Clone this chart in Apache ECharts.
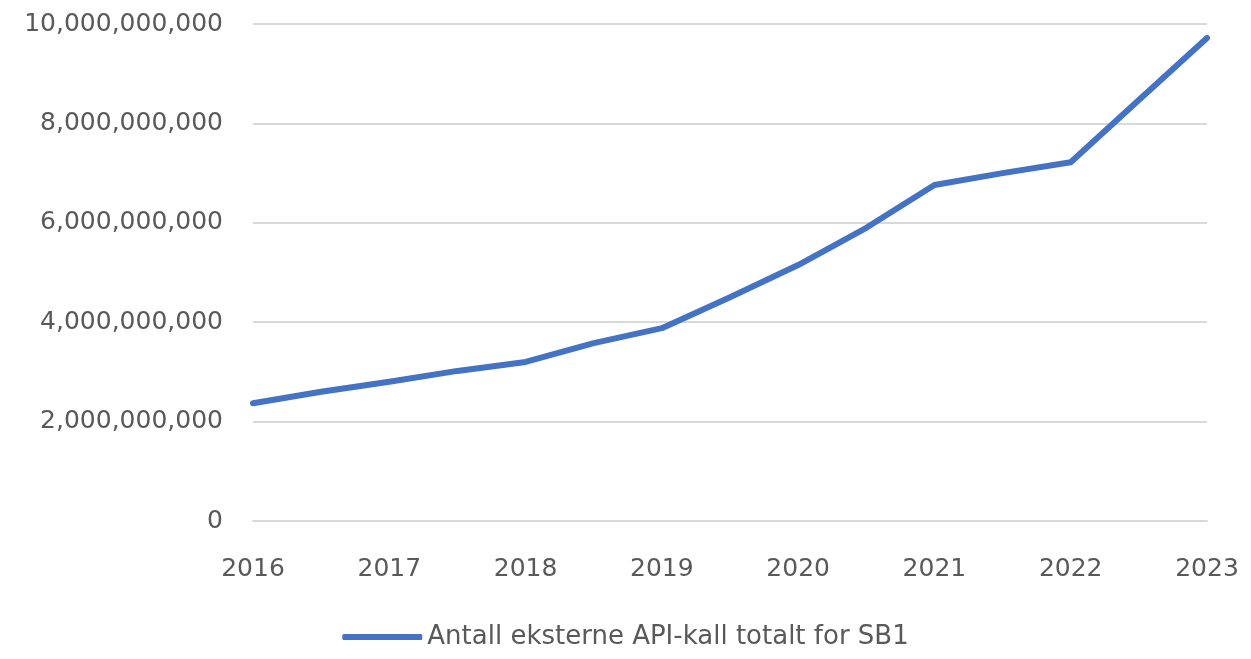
<!DOCTYPE html>
<html>
<head>
<meta charset="utf-8">
<script src="https://cdn.jsdelivr.net/npm/echarts@6/dist/echarts.min.js"></script>
<style>
    html, body { margin: 0; padding: 0; background: #fff; }
    #chart { width: 1251px; height: 659px; }
</style>
</head>
<body>
<div id="chart"></div>
<script>
// half-year points
const periods = [2016, 2016.5, 2017, 2017.5, 2018, 2018.5, 2019, 2019.5, 2020, 2020.5, 2021, 2021.5, 2022, 2022.5, 2023];
const apiCalls = [
    2.37e9, 2.6e9, 2.8e9, 3.02e9, 3.2e9, 3.58e9, 3.88e9, 4.5e9,
    5.15e9, 5.9e9, 6.76e9, 7.0e9, 7.22e9, 8.47e9, 9.72e9,
];
const seriesName = "Antall eksterne API-kall totalt for SB1";

const labelFont = "DejaVu Sans";
const chart = echarts.init(document.getElementById("chart"));

chart.setOption({
    animation: false,
    grid: { left: 253, right: 44, top: 24, bottom: 138 },
    legend: {
        data: [{ name: seriesName, icon: "roundRect" }],
        bottom: 4,
        left: "center",
        itemWidth: 80,
        itemHeight: 6,
        itemGap: 4,
        textStyle: { color: "#595959", fontSize: 26, fontFamily: labelFont },
    },
    xAxis: {
        type: "value",
        min: 2016,
        max: 2023,
        interval: 1,
        axisLine: { show: true, lineStyle: { color: "#d9d9d9", width: 2 } },
        axisTick: { show: false },
        splitLine: { show: false },
        axisLabel: {
            color: "#595959",
            fontSize: 25,
            fontFamily: labelFont,
            margin: 36,
            formatter: (v) => String(v),
        },
    },
    yAxis: {
        type: "value",
        min: 0,
        max: 10e9,
        interval: 2e9,
        axisLine: { show: false },
        axisTick: { show: false },
        splitLine: { lineStyle: { color: "#d9d9d9", width: 2 } },
        axisLabel: {
            color: "#595959",
            fontSize: 25,
            fontFamily: labelFont,
            margin: 30,
            formatter: (v) => v.toLocaleString("en-US"),
        },
    },
    series: [
        {
            name: seriesName,
            type: "line",
            data: periods.map((p, i) => [p, apiCalls[i]]),
            symbol: "none",
            lineStyle: { color: "#4472c4", width: 6, cap: "round", join: "round" },
            itemStyle: { color: "#4472c4" },
        },
    ],
});
</script>
</body>
</html>
